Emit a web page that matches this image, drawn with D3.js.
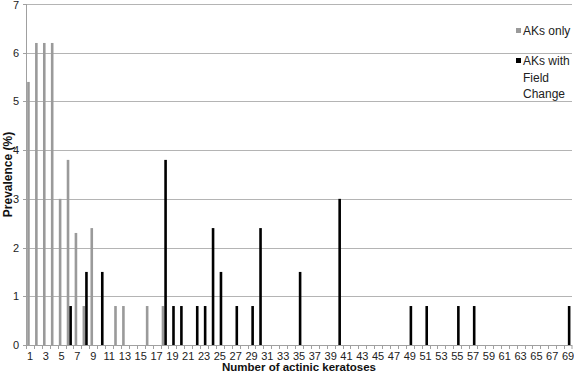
<!DOCTYPE html>
<html>
<head>
<meta charset="utf-8">
<script src="https://cdn.jsdelivr.net/npm/d3@7"></script>
<style>
  body { margin: 0; background: #fff; }
  svg { display: block; font-family: "Liberation Sans", Arial, sans-serif; }
  .grid line { stroke: #b4b4b4; stroke-width: 1; }
  .axis-line { stroke: #a0a0a0; stroke-width: 1; }
  .tick-label { font-size: 11px; fill: #222; }
  .axis-title { font-size: 11.5px; font-weight: bold; fill: #111; }
  .legend-text { font-size: 12px; fill: #222; }
</style>
</head>
<body>
<svg id="chart" width="574" height="373"></svg>
<script>
// number of actinic keratoses (category axis)
var akCounts = [1,2,3,4,5,6,7,8,9,10,11,12,13,14,15,16,17,18,19,20,21,22,23,24,25,
  26,27,28,29,30,31,32,33,34,35,36,37,38,39,40,41,42,43,44,45,46,47,48,49,50,
  51,52,53,54,55,56,57,58,59,60,61,62,63,64,65,66,67,68,69];
var xLabels = [1,3,5,7,9,11,13,15,17,19,21,23,25,27,29,31,33,35,37,39,41,43,45,47,49,
  51,53,55,57,59,61,63,65,67,69];
var yTicks = [0,1,2,3,4,5,6,7];

// [count, prevalence %]
var aksOnly = [[1,5.4],[2,6.2],[3,6.2],[4,6.2],[5,3.0],[6,3.8],[7,2.3],[8,0.8],[9,2.4],
  [12,0.8],[13,0.8],[16,0.8],[18,0.8]];
var aksField = [[6,0.8],[8,1.5],[10,1.5],[18,3.8],[19,0.8],[20,0.8],[22,0.8],[23,0.8],
  [24,2.4],[25,1.5],[27,0.8],[29,0.8],[30,2.4],[35,1.5],[40,3.0],[49,0.8],[51,0.8],
  [55,0.8],[57,0.8],[69,0.8]];

var seriesNames = ["AKs only", "AKs with Field Change"];
var seriesColors = ["#9a9a9a", "#000000"];

var plotL = 26, plotR = 572, plotT = 4, plotB = 345;
var svg = d3.select("#chart");

var x = d3.scaleBand().domain(akCounts).range([plotL, plotR]).padding(0);
var y = d3.scaleLinear().domain([0, 7]).range([plotB, plotT]);
var inner = d3.scaleBand().domain(seriesNames).range([-2.8, 2.4]).padding(0);

// gridlines
svg.append("g").attr("class", "grid")
  .selectAll("line").data(yTicks.filter(function(d){ return d > 0; }))
  .enter().append("line")
    .attr("x1", plotL).attr("x2", plotR)
    .attr("y1", function(d){ return Math.round(y(d)) + 0.5; })
    .attr("y2", function(d){ return Math.round(y(d)) + 0.5; });

// y axis
var yAxis = svg.append("g");
yAxis.append("line").attr("class", "axis-line")
  .attr("x1", plotL + 0.5).attr("x2", plotL + 0.5)
  .attr("y1", plotT).attr("y2", plotB);
yAxis.selectAll("line.tk").data(yTicks).enter().append("line")
  .attr("class", "axis-line tk")
  .attr("x1", plotL - 3).attr("x2", plotL)
  .attr("y1", function(d){ return Math.round(y(d)) + 0.5; })
  .attr("y2", function(d){ return Math.round(y(d)) + 0.5; });
yAxis.selectAll("text").data(yTicks).enter().append("text")
  .attr("class", "tick-label")
  .attr("x", 19)
  .attr("y", function(d){ return Math.max(y(d) + 4, 9); })
  .attr("text-anchor", "end")
  .text(function(d){ return d; });

// bars
function drawSeries(data, name, color) {
  svg.append("g").selectAll("rect").data(data).enter().append("rect")
    .attr("x", function(d){ return x(d[0]) + x.bandwidth() / 2 + inner(name); })
    .attr("width", inner.bandwidth())
    .attr("y", function(d){ return y(d[1]); })
    .attr("height", function(d){ return plotB - y(d[1]); })
    .attr("fill", color);
}
drawSeries(aksOnly, seriesNames[0], seriesColors[0]);
drawSeries(aksField, seriesNames[1], seriesColors[1]);

// x axis
var xAxis = svg.append("g");
xAxis.append("line").attr("class", "axis-line")
  .attr("x1", plotL).attr("x2", plotR)
  .attr("y1", plotB + 0.5).attr("y2", plotB + 0.5);
xAxis.selectAll("line.tk").data(akCounts.concat([null])).enter().append("line")
  .attr("class", "axis-line tk")
  .attr("x1", function(d){ return d === null ? plotR : Math.round(x(d)) + 0.5; })
  .attr("x2", function(d){ return d === null ? plotR : Math.round(x(d)) + 0.5; })
  .attr("y1", plotB).attr("y2", plotB + 4);
xAxis.selectAll("text").data(xLabels).enter().append("text")
  .attr("class", "tick-label")
  .attr("x", function(d){ return x(d) + x.bandwidth() / 2; })
  .attr("y", 360)
  .attr("text-anchor", "middle")
  .text(function(d){ return d; });

// axis titles
svg.append("text").attr("class", "axis-title")
  .attr("x", (plotL + plotR) / 2).attr("y", 371)
  .attr("text-anchor", "middle")
  .text("Number of actinic keratoses");
svg.append("text").attr("class", "axis-title")
  .attr("transform", "translate(12," + ((plotT + plotB) / 2) + ") rotate(-90)")
  .attr("text-anchor", "middle")
  .style("font-size", "12px")
  .text("Prevalence (%)");

// legend
var legend = svg.append("g");
legend.append("rect").attr("x", 516).attr("y", 28).attr("width", 5).attr("height", 5).attr("fill", seriesColors[0]);
legend.append("text").attr("class", "legend-text").attr("x", 523).attr("y", 35).text("AKs only");
legend.append("rect").attr("x", 516).attr("y", 58).attr("width", 5).attr("height", 5).attr("fill", seriesColors[1]);
var lt = legend.append("text").attr("class", "legend-text").attr("x", 523).attr("y", 65);
["AKs with", "Field", "Change"].forEach(function(s, i){
  lt.append("tspan").attr("x", 523).attr("dy", i === 0 ? 0 : 16.5).text(s);
});
</script>
</body>
</html>
